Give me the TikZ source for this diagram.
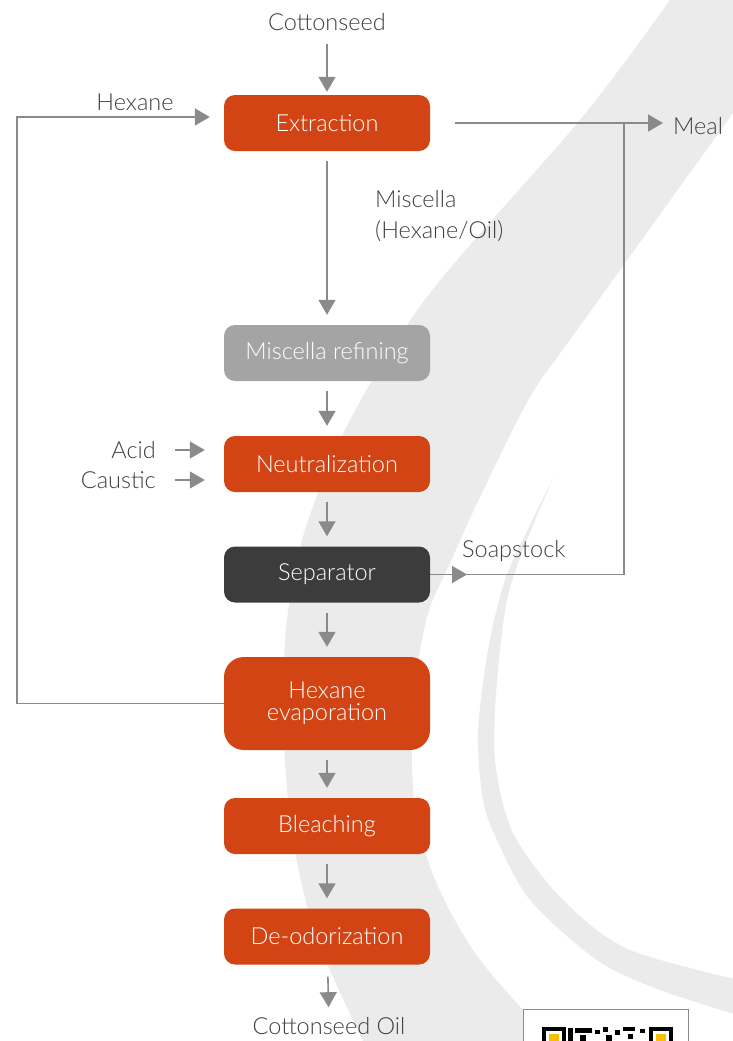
\documentclass[tikz,border=0pt]{standalone}
\usepackage{fontspec}
\setmainfont{Lato}[UprightFont=* Light]
\usepackage{xcolor}
\usetikzlibrary{positioning, arrows.meta}

\definecolor{burnt}{RGB}{211,68,21}
\definecolor{ash}{RGB}{164,164,164}
\definecolor{coal}{RGB}{60,60,60}
\definecolor{pipe}{RGB}{138,138,138}
\definecolor{swoosh}{RGB}{235,235,235}
\definecolor{ink}{RGB}{64,64,64}
\definecolor{qrgold}{RGB}{250,190,0}

\begin{document}
\begin{tikzpicture}[
  x = 1pt,
  y = -1pt,
  stage/.style = {
    rectangle,
    rounded corners = 11pt,
    minimum width = 206pt,
    minimum height = 56pt,
    inner sep = 0pt,
    fill = burnt,
    text = white,
    align = center,
    font = \fontsize{23.5}{22}\selectfont
  },
  tag/.style = {
    inner sep = 0pt,
    text = ink,
    font = \fontsize{23.5}{31}\selectfont
  },
  flow/.style = {
    -{Triangle[width = 17pt, length = 15pt]},
    pipe,
    line width = 1.6pt
  },
  pipeline/.style = {
    pipe,
    line width = 1.6pt
  },
  ]
  \useasboundingbox (0, 0) rectangle (733, 1041);
  \fill[white] (0, 0) rectangle (733, 1041);

  % Backdrop swoosh.
  \begin{scope}
    \clip (0, 0) rectangle (733, 1041);
    \fill[swoosh] plot[smooth] coordinates {(680,-20) (670,0) (580,120) (430,293)
      (350,420) (305,530) (287,620) (283,720) (292,833) (315,933) (363,1041) (380,1070)}
      -- plot[smooth] coordinates {(585,1070) (555,1041) (523,1010) (480,960) (452,915)
      (430,867) (416,815) (412,767) (413,700) (420,650) (430,607) (450,563) (480,497)
      (530,397) (577,330) (733,113) (830,-20)} -- cycle;
    \fill[swoosh] plot[smooth] coordinates {(553,478) (530,525) (505,580) (488,650)
      (478,733) (483,800) (497,840) (530,900) (597,960) (660,990) (760,1022)}
      -- plot[smooth] coordinates {(760,985) (630,950) (563,900) (513,833) (495,760)
      (497,680) (507,600) (525,545) (553,478)} -- cycle;
  \end{scope}

  % QR code corner.
  \draw[pipe, fill = white, line width = 1pt] (523, 1009) rectangle (688, 1060);
  \foreach \x in {542, 649} {
    \fill[black] (\x, 1027) rectangle ++(24, 24);
    \fill[white] (\x + 4, 1031) rectangle ++(16, 16);
    \fill[qrgold] (\x + 7, 1034) rectangle ++(10, 10);
  }
  \foreach \x/\y/\w/\h in {568/1028/5/13, 575/1028/17/5, 580/1035/6/6, 595/1030/5/4,
    603/1027/5/5, 606/1035/6/6, 615/1030/5/5, 623/1027/12/4, 628/1034/5/5, 640/1029/5/4} {
    \fill[black] (\x, \y) rectangle ++(\w, \h);
  }

  % Process stages.
  \node[stage] (extract) at (327, 123) {Extraction};
  \node[stage, fill = ash] (refine) at (327, 353) {Miscella refining};
  \node[stage] (neutral) at (327, 464) {Neutralization};
  \node[stage, fill = coal] (separ) at (327, 574.5) {Separator};
  \node[stage, minimum height = 93pt, rounded corners = 20pt] (evap) at (327, 703.5)
    {Hexane\\evaporation};
  \node[stage] (bleach) at (327, 826) {Bleaching};
  \node[stage] (deodor) at (327, 936.5) {De-odorization};

  % Feeds and products.
  \node[tag] (seed) at (327, 22) {Cottonseed};
  \node[tag] (oil) at (329, 1026) {Cottonseed Oil};
  \node[tag] (hexane) at (135, 102) {Hexane};
  \node[tag, anchor = west] (meal) at (673, 126) {Meal};
  \node[tag, anchor = west] (soap) at (462, 551) {Soapstock};
  \node[tag, anchor = east] (acid) at (156, 450) {Acid};
  \node[tag, anchor = east] (caustic) at (156, 480) {Caustic};
  \node[tag, anchor = west, align = left] (miscella) at (375, 216)
    {Miscella\\(Hexane/Oil)};

  % Main line.
  \draw[flow, shorten <= 13pt, shorten >= 3pt] (seed) -- (extract);
  \foreach \source/\dest in {extract/refine, refine/neutral, neutral/separ,
    separ/evap, evap/bleach, bleach/deodor} {
    \draw[flow, shorten <= 10pt, shorten >= 10pt] (\source) -- (\dest);
  }
  \draw[flow, shorten <= 12pt, shorten >= 10pt] (deodor) -- (oil);

  % Chemicals into neutralization.
  \foreach \chem in {acid, caustic} {
    \draw[flow, shorten <= 19pt, shorten >= 19pt] (\chem.east) -- (\chem.east -| neutral.west);
  }

  % Hexane recycle.
  \coordinate (ret) at (17, 117);
  \draw[flow, shorten >= 14pt] (evap.west) -| (ret) -- (extract.west |- ret);

  % Meal and soapstock.
  \coordinate (tee) at (624, 123);
  \coordinate (soaptip) at (467, 574.5);
  \draw[flow, shorten <= 25pt, shorten >= 10pt] (extract.east) -- (meal.west |- extract.east);
  \draw[pipeline] (separ.east) -| (tee);
  \draw[flow] (separ.east) -- (soaptip);
\end{tikzpicture}
\end{document}
